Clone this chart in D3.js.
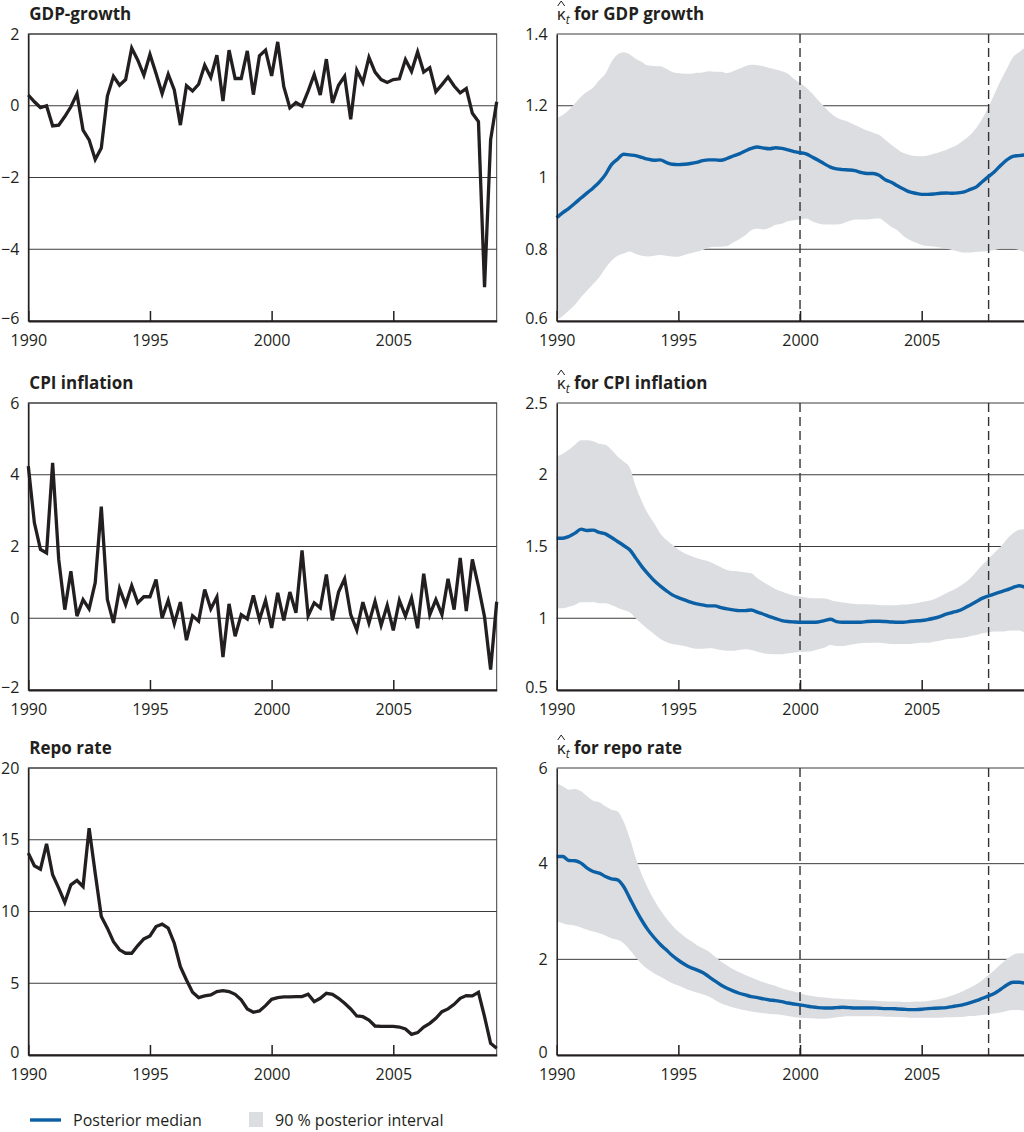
<!DOCTYPE html>
<html>
<head>
<meta charset="utf-8">
<script src="https://cdn.jsdelivr.net/npm/d3@7"></script>
<style>
  body { margin: 0; background: #fff; }
  svg text { font-family: "Open Sans", sans-serif; fill: #231f20; }
</style>
</head>
<body>
<svg id="chart" width="1024" height="1132"></svg>
<script>
// quarterly observations, 1990Q1 onwards
const startYear = 1990;
const nQuarters = 78;
const xTicks = [1990, 1995, 2000, 2005];
const markerYears = [2000, 2007.75];

const gdpGrowth = [0.30,0.11,-0.05,0.0,-0.56,-0.54,-0.30,-0.03,0.33,-0.68,
  -0.95,-1.50,-1.18,0.27,0.82,0.57,0.73,1.61,1.27,0.85,
  1.43,0.90,0.34,0.88,0.44,-0.54,0.56,0.41,0.60,1.13,
  0.79,1.41,0.13,1.55,0.76,0.76,1.53,0.31,1.39,1.55,
  0.83,1.78,0.53,-0.06,0.09,-0.01,0.41,0.87,0.30,1.30,
  0.08,0.57,0.82,-0.38,0.99,0.65,1.35,0.94,0.73,0.65,
  0.73,0.75,1.29,0.96,1.50,0.94,1.06,0.39,0.59,0.80,
  0.55,0.36,0.48,-0.21,-0.44,-5.06,-0.95,0.11];

const cpiInflation = [4.24,2.66,1.92,1.82,4.33,1.64,0.24,1.31,0.06,0.52,
  0.26,0.99,3.11,0.52,-0.13,0.83,0.38,0.91,0.43,0.60,
  0.60,1.08,0.01,0.50,-0.15,0.45,-0.61,0.07,-0.08,0.80,
  0.26,0.59,-1.08,0.40,-0.50,0.10,-0.02,0.64,-0.04,0.50,
  -0.27,0.71,-0.06,0.73,0.15,1.89,0.07,0.43,0.29,1.22,
  -0.06,0.73,1.10,0.10,-0.33,0.45,-0.13,0.47,-0.20,0.36,
  -0.34,0.50,0.06,0.56,-0.28,1.24,0.10,0.52,0.10,1.10,
  0.24,1.68,0.20,1.64,0.89,0.04,-1.43,0.46];

const repoRate = [14.07,13.19,12.95,14.72,12.56,11.63,10.63,11.86,12.16,11.74,
  15.81,12.67,9.65,8.84,7.90,7.33,7.09,7.09,7.63,8.09,
  8.30,8.95,9.12,8.84,7.79,6.16,5.23,4.37,4.00,4.12,
  4.19,4.42,4.49,4.42,4.23,3.84,3.21,2.98,3.07,3.44,
  3.88,4.00,4.05,4.05,4.07,4.07,4.23,3.72,3.95,4.30,
  4.23,3.95,3.60,3.21,2.72,2.67,2.44,2.02,2.00,2.00,
  2.00,1.95,1.81,1.44,1.56,1.95,2.21,2.56,3.02,3.21,
  3.53,3.95,4.14,4.12,4.37,2.67,0.81,0.47];

const kappaGdpMedian = [0.888,0.902,0.914,0.928,0.943,0.957,0.971,0.987,1.008,1.036,
  1.051,1.065,1.063,1.061,1.056,1.051,1.048,1.049,1.042,1.037,
  1.036,1.037,1.039,1.042,1.047,1.049,1.049,1.048,1.053,1.060,
  1.066,1.074,1.081,1.085,1.082,1.080,1.083,1.081,1.077,1.072,
  1.069,1.066,1.057,1.048,1.038,1.029,1.024,1.022,1.021,1.019,
  1.014,1.011,1.011,1.006,0.994,0.987,0.977,0.968,0.960,0.956,
  0.953,0.953,0.954,0.956,0.957,0.956,0.957,0.960,0.967,0.974,
  0.989,1.003,1.017,1.034,1.049,1.059,1.061,1.063];
const kappaGdpUpper = [1.165,1.174,1.188,1.206,1.225,1.239,1.251,1.271,1.289,1.322,
  1.343,1.349,1.343,1.331,1.322,1.312,1.311,1.310,1.303,1.294,
  1.291,1.289,1.289,1.292,1.293,1.296,1.295,1.295,1.291,1.296,
  1.303,1.310,1.314,1.313,1.310,1.305,1.301,1.296,1.289,1.275,
  1.263,1.251,1.234,1.215,1.197,1.180,1.167,1.160,1.155,1.146,
  1.139,1.131,1.125,1.119,1.105,1.091,1.079,1.068,1.063,1.060,
  1.059,1.061,1.066,1.071,1.077,1.084,1.093,1.105,1.119,1.139,
  1.165,1.197,1.234,1.271,1.303,1.335,1.349,1.363];
const kappaGdpLower = [0.602,0.614,0.629,0.645,0.666,0.685,0.703,0.722,0.747,0.768,
  0.782,0.788,0.794,0.787,0.782,0.780,0.782,0.784,0.782,0.780,
  0.779,0.784,0.789,0.793,0.798,0.805,0.807,0.807,0.809,0.819,
  0.828,0.839,0.853,0.857,0.855,0.860,0.868,0.871,0.878,0.881,
  0.883,0.886,0.878,0.872,0.869,0.869,0.869,0.872,0.878,0.883,
  0.883,0.883,0.885,0.886,0.876,0.862,0.853,0.837,0.826,0.819,
  0.812,0.809,0.808,0.805,0.802,0.798,0.794,0.791,0.791,0.793,
  0.794,0.795,0.798,0.802,0.803,0.802,0.798,0.791];

const kappaCpiMedian = [1.558,1.558,1.570,1.593,1.621,1.612,1.614,1.598,1.588,1.563,
  1.535,1.507,1.477,1.419,1.360,1.309,1.263,1.226,1.193,1.163,
  1.144,1.128,1.112,1.100,1.093,1.086,1.086,1.074,1.065,1.058,
  1.053,1.053,1.058,1.042,1.028,1.012,0.998,0.984,0.977,0.974,
  0.972,0.972,0.972,0.974,0.984,0.993,0.977,0.972,0.972,0.972,
  0.972,0.977,0.979,0.979,0.977,0.974,0.972,0.972,0.977,0.981,
  0.984,0.991,1.000,1.012,1.028,1.040,1.051,1.070,1.093,1.116,
  1.140,1.156,1.170,1.184,1.198,1.214,1.226,1.216];
const kappaCpiUpper = [2.128,2.147,2.174,2.209,2.240,2.240,2.233,2.216,2.209,2.174,
  2.128,2.093,2.051,1.919,1.814,1.728,1.663,1.593,1.547,1.512,
  1.477,1.453,1.435,1.419,1.407,1.395,1.377,1.356,1.337,1.330,
  1.326,1.319,1.314,1.279,1.251,1.226,1.202,1.186,1.170,1.158,
  1.151,1.144,1.140,1.140,1.137,1.128,1.116,1.109,1.105,1.100,
  1.098,1.098,1.095,1.093,1.091,1.091,1.091,1.095,1.098,1.105,
  1.114,1.121,1.133,1.151,1.174,1.193,1.216,1.244,1.279,1.326,
  1.372,1.414,1.458,1.500,1.551,1.593,1.616,1.621];
const kappaCpiLower = [1.070,1.070,1.081,1.093,1.112,1.112,1.114,1.105,1.105,1.093,
  1.074,1.058,1.042,1.000,0.960,0.923,0.891,0.858,0.835,0.821,
  0.814,0.807,0.795,0.788,0.788,0.791,0.788,0.779,0.774,0.774,
  0.779,0.784,0.779,0.767,0.756,0.751,0.749,0.749,0.756,0.760,
  0.767,0.767,0.772,0.784,0.795,0.814,0.807,0.807,0.814,0.821,
  0.826,0.830,0.830,0.830,0.826,0.821,0.821,0.821,0.821,0.826,
  0.830,0.830,0.837,0.844,0.853,0.858,0.860,0.865,0.877,0.884,
  0.895,0.902,0.907,0.907,0.912,0.914,0.914,0.895];

const kappaRepoMedian = [4.151,4.151,4.067,4.060,4.012,3.907,3.837,3.802,3.733,3.684,
  3.663,3.523,3.279,3.035,2.812,2.616,2.456,2.316,2.198,2.079,
  1.981,1.898,1.828,1.779,1.723,1.640,1.549,1.465,1.395,1.340,
  1.291,1.256,1.221,1.200,1.172,1.151,1.137,1.116,1.088,1.067,
  1.047,1.026,1.005,0.991,0.984,0.984,0.991,0.998,0.991,0.984,
  0.984,0.984,0.984,0.977,0.970,0.970,0.963,0.956,0.949,0.949,
  0.956,0.970,0.977,0.984,0.991,1.012,1.033,1.060,1.095,1.137,
  1.186,1.235,1.291,1.374,1.465,1.521,1.521,1.500];
const kappaRepoUpper = [5.686,5.616,5.547,5.561,5.512,5.407,5.316,5.282,5.198,5.128,
  5.093,4.884,4.535,4.116,3.767,3.488,3.244,3.035,2.860,2.707,
  2.581,2.477,2.386,2.302,2.233,2.163,2.058,1.953,1.870,1.793,
  1.730,1.674,1.619,1.570,1.521,1.479,1.444,1.395,1.360,1.326,
  1.291,1.256,1.235,1.214,1.200,1.186,1.179,1.172,1.165,1.158,
  1.151,1.144,1.137,1.130,1.123,1.116,1.116,1.109,1.109,1.116,
  1.116,1.130,1.151,1.172,1.200,1.242,1.291,1.347,1.409,1.479,
  1.570,1.674,1.779,1.898,2.009,2.093,2.128,2.128];
const kappaRepoLower = [2.791,2.756,2.721,2.707,2.665,2.616,2.581,2.547,2.498,2.442,
  2.407,2.337,2.198,2.037,1.898,1.793,1.709,1.640,1.570,1.500,
  1.451,1.395,1.347,1.305,1.270,1.221,1.151,1.081,1.033,0.991,
  0.963,0.935,0.907,0.886,0.872,0.858,0.851,0.837,0.816,0.795,
  0.781,0.774,0.767,0.760,0.760,0.767,0.788,0.802,0.809,0.809,
  0.809,0.809,0.809,0.809,0.802,0.802,0.795,0.788,0.781,0.781,
  0.781,0.781,0.781,0.781,0.788,0.788,0.795,0.802,0.816,0.823,
  0.837,0.851,0.865,0.886,0.921,0.942,0.942,0.921];

const gdpTicks = [-6, -4, -2, 0, 2];
const cpiTicks = [-2, 0, 2, 4, 6];
const repoTicks = [0, 5, 10, 15, 20];
const kGdpTicks = [0.6, 0.8, 1, 1.2, 1.4];
const kCpiTicks = [0.5, 1, 1.5, 2, 2.5];
const kRepoTicks = [0, 2, 4, 6];

const dates = d3.range(nQuarters).map(i => startYear + i / 4);

const svg = d3.select("#chart");
const W = 468.4, H = 287;
const rowTop = [34, 403, 768];
const leftX = 28.3, rightX = 556.7;
const blue = "#0b5fa5", band = "#dcdde0", ink = "#231f20";
const fmt = d3.format("");

function xScale(x0) {
    return d3.scaleLinear().domain([startYear, 2009.25]).range([x0, x0 + W]);
}

function gridlines(g, x, y, ticks) {
    g.append("g").selectAll("line").data(ticks).join("line")
        .attr("x1", x.range()[0]).attr("x2", x.range()[1])
        .attr("y1", d => y(d)).attr("y2", d => y(d))
        .attr("stroke", "#3c3c3c").attr("stroke-width", 1);
}

function axes(g, x, y, ticks, top) {
    const lo = d3.min(ticks);
    const ya = g.append("g").attr("transform", `translate(${x.range()[0]},0)`)
        .call(d3.axisLeft(y).tickValues(ticks).tickSize(0).tickPadding(9).tickFormat(fmt));
    ya.attr("font-size", 16).attr("font-family", null);
    ya.select(".domain").attr("stroke", ink).attr("stroke-width", 1.5);
    // lowest label sits a touch higher so it clears the year labels
    ya.selectAll("text").attr("fill", ink).attr("y", d => d === lo ? -3 : 0);

    const xa = g.append("g").attr("transform", `translate(0,${top + H})`)
        .call(d3.axisBottom(x).tickValues(xTicks).tickSizeInner(-10).tickSizeOuter(0)
            .tickPadding(13.5).tickFormat(d3.format("d")));
    xa.attr("font-size", 16).attr("font-family", null);
    xa.select(".domain").attr("stroke", ink).attr("stroke-width", 2);
    xa.selectAll(".tick line").attr("stroke", ink).attr("stroke-width", 1.5);
    xa.selectAll("text").attr("fill", ink);
}

function dataPanel(row, title, values, ticks) {
    const top = rowTop[row];
    const x = xScale(leftX);
    const y = d3.scaleLinear().domain(d3.extent(ticks)).range([top + H, top]);
    const g = svg.append("g");

    gridlines(g, x, y, ticks);
    g.append("rect").attr("x", x.range()[0]).attr("y", top)
        .attr("width", W).attr("height", H)
        .attr("fill", "none").attr("stroke", "#3c3c3c").attr("stroke-width", 1);

    g.append("path").datum(values)
        .attr("d", d3.line().x((d, i) => x(dates[i])).y(d => y(d)))
        .attr("fill", "none").attr("stroke", ink).attr("stroke-width", 3.3);

    axes(g, x, y, ticks, top);

    g.append("text").attr("x", leftX + 1).attr("y", top - 14)
        .attr("font-size", 17).attr("font-weight", 700).text(title);
}

function kappaPanel(row, label, median, lower, upper, ticks) {
    const top = rowTop[row];
    const x = xScale(rightX);
    const y = d3.scaleLinear().domain(d3.extent(ticks)).range([top + H, top]);
    const g = svg.append("g");

    gridlines(g, x, y, ticks);

    g.append("path").datum(dates)
        .attr("d", d3.area().curve(d3.curveMonotoneX)
            .x(d => x(d)).y0((d, i) => y(lower[i])).y1((d, i) => y(upper[i])))
        .attr("fill", band);

    g.append("g").selectAll("line").data(markerYears).join("line")
        .attr("x1", d => x(d)).attr("x2", d => x(d))
        .attr("y1", top).attr("y2", top + H)
        .attr("stroke", "#333").attr("stroke-width", 1.4).attr("stroke-dasharray", "9,5");

    g.append("path").datum(median)
        .attr("d", d3.line().curve(d3.curveMonotoneX).x((d, i) => x(dates[i])).y(d => y(d)))
        .attr("fill", "none").attr("stroke", blue).attr("stroke-width", 3.4);

    axes(g, x, y, ticks, top);

    // title: kappa-hat with subscript t
    const ty = top - 14;
    g.append("path")
        .attr("d", `M${rightX + 1},${ty - 14} L${rightX + 4.5},${ty - 19} L${rightX + 8},${ty - 14}`)
        .attr("fill", "none").attr("stroke", ink).attr("stroke-width", 1);
    const t = g.append("text").attr("x", rightX).attr("y", ty).attr("font-size", 17);
    t.append("tspan").text("κ");
    t.append("tspan").attr("dy", 4).attr("font-size", 12).attr("font-style", "italic").text("t");
    t.append("tspan").attr("dy", -4).attr("font-weight", 700).text(" for " + label);
}

dataPanel(0, "GDP-growth", gdpGrowth, gdpTicks);
dataPanel(1, "CPI inflation", cpiInflation, cpiTicks);
dataPanel(2, "Repo rate", repoRate, repoTicks);

kappaPanel(0, "GDP growth", kappaGdpMedian, kappaGdpLower, kappaGdpUpper, kGdpTicks);
kappaPanel(1, "CPI inflation", kappaCpiMedian, kappaCpiLower, kappaCpiUpper, kCpiTicks);
kappaPanel(2, "repo rate", kappaRepoMedian, kappaRepoLower, kappaRepoUpper, kRepoTicks);

// legend
const legend = svg.append("g");
legend.append("line").attr("x1", 30).attr("x2", 61).attr("y1", 1120).attr("y2", 1120)
    .attr("stroke", blue).attr("stroke-width", 3.4);
legend.append("text").attr("x", 73).attr("y", 1125.5).attr("font-size", 16).text("Posterior median");
legend.append("rect").attr("x", 249).attr("y", 1112).attr("width", 14).attr("height", 15).attr("fill", band);
legend.append("text").attr("x", 275).attr("y", 1125.5).attr("font-size", 16).text("90 % posterior interval");
</script>
</body>
</html>
